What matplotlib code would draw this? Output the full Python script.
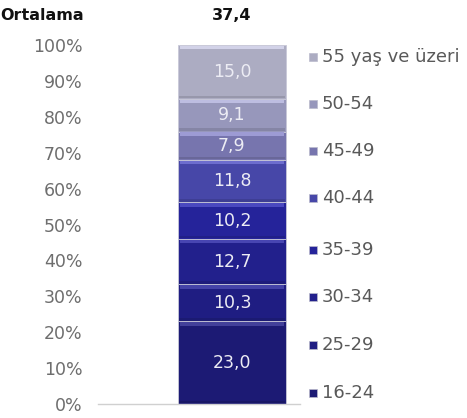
import matplotlib
matplotlib.use("Agg")
import matplotlib.pyplot as plt
import numpy as np
from matplotlib.colors import to_rgb

# Age groups from bottom to top of the stack, with their shares (%)
groups = ["16-24", "25-29", "30-34", "35-39", "40-44", "45-49", "50-54", "55 yaş ve üzeri"]
shares = [23.0, 10.3, 12.7, 10.2, 11.8, 7.9, 9.1, 15.0]
colors = ["#1c1a74", "#1f1d82", "#22208c", "#25239a", "#4747a8", "#7775ae", "#9797bb", "#acacc2"]
average_label = "Ortalama"
average_value = "37,4"
ytick_values = list(range(0, 101, 10))

fig = plt.figure(figsize=(4.67, 4.18), dpi=100)
ax = fig.add_axes([98 / 467, 14 / 418, 202 / 467, 359 / 418])
ax.set_xlim(0, 1)
ax.set_ylim(0, 100)

xc = 0.663
w = 0.535
bottoms = np.concatenate([[0], np.cumsum(shares)[:-1]])

for val, bot, col in zip(shares, bottoms, colors):
    ax.bar(xc, val, width=w, bottom=bot, color=col, edgecolor="#c8c8d8", linewidth=0.6, zorder=2)
    # lighter bevel along the top of each segment
    light = tuple(min(1, c + 0.15) for c in to_rgb(col))
    ax.bar(xc, 1.0, width=w * 0.96, bottom=bot + val - 1.2, color=light, linewidth=0, zorder=3)
    # slightly darker lower edge
    dark = tuple(c * 0.88 for c in to_rgb(col))
    ax.bar(xc, 0.7, width=w * 0.98, bottom=bot + 0.2, color=dark, linewidth=0, zorder=3)
    ax.text(xc, bot + val / 2, f"{val:.1f}".replace(".", ","), ha="center", va="center",
            color="#ececf4", fontsize=12.5, zorder=4)

ax.set_yticks(ytick_values)
ax.set_yticklabels([f"{v}%" for v in ytick_values], fontsize=12.5, color="#6e6e6e")
ax.tick_params(axis="y", length=0, pad=11)
ax.set_xticks([])
for s in ["top", "right", "left"]:
    ax.spines[s].set_visible(False)
ax.spines["bottom"].set_color("#d0d0d0")
ax.spines["bottom"].set_linewidth(1.0)

# Legend: entries placed beside the stack, top to bottom
legend_y = [57, 104, 151, 198, 250, 297, 345, 393]
for name, col, ypix in zip(groups[::-1], colors[::-1], legend_y):
    yf = 1 - ypix / 418
    fig.patches.append(plt.Rectangle((309 / 467, yf - 4 / 418), 8 / 467, 8 / 418,
                                     transform=fig.transFigure, facecolor=col,
                                     edgecolor="#bbbbcc", linewidth=0.5))
    fig.text(322 / 467, yf, name, ha="left", va="center", fontsize=13, color="#595959")

fig.text(0 / 467, 1 - 15 / 418, average_label, ha="left", va="center",
         fontsize=11.5, fontweight="bold", color="#111111")
fig.text(232 / 467, 1 - 15 / 418, average_value, ha="center", va="center",
         fontsize=11.5, fontweight="bold", color="#111111")

fig.savefig("out.png", dpi=100)
